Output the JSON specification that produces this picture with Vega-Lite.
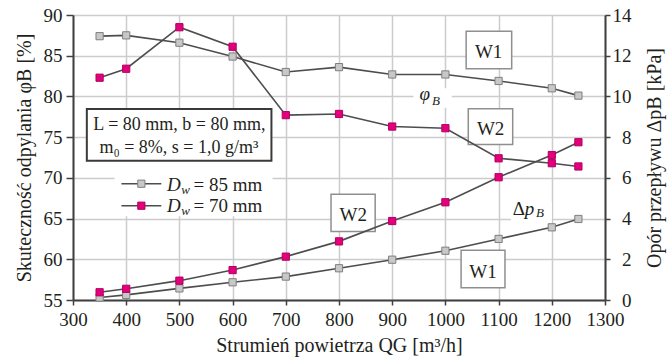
{
  "$schema": "https://vega.github.io/schema/vega-lite/v6.json",
  "width": 532,
  "height": 285,
  "autosize": {"type": "none"},
  "padding": {"left": 73, "top": 15, "right": 63, "bottom": 60},
  "background": "white",
  "config": {
    "font": "'Liberation Serif', 'DejaVu Serif', serif",
    "view": {"stroke": null},
    "axis": {
      "labelFont": "'Liberation Serif', 'DejaVu Serif', serif",
      "titleFont": "'Liberation Serif', 'DejaVu Serif', serif",
      "labelFontSize": 19,
      "titleFontSize": 20,
      "labelColor": "#231f20",
      "titleColor": "#231f20",
      "titleFontWeight": "normal",
      "domainColor": "#404040",
      "domainWidth": 2,
      "tickColor": "#404040",
      "tickWidth": 1.5,
      "gridColor": "#cccccc",
      "gridWidth": 1.5,
      "labelFlush": false,
      "labelOverlap": false
    },
    "axisX": {
      "values": [300, 500, 700, 900, 1100, 1300],
      "format": "d",
      "tickSize": 5,
      "labelPadding": 5,
      "grid": true,
      "titlePadding": 6
    }
  },
  "datasets": {
    "eff": [
      {"Q": 350, "phi": 87.4, "Dw": "85"}, {"Q": 400, "phi": 87.5, "Dw": "85"}, {"Q": 500, "phi": 86.6, "Dw": "85"},
      {"Q": 600, "phi": 84.9, "Dw": "85"}, {"Q": 700, "phi": 83.0, "Dw": "85"}, {"Q": 800, "phi": 83.6, "Dw": "85"},
      {"Q": 900, "phi": 82.7, "Dw": "85"}, {"Q": 1000, "phi": 82.7, "Dw": "85"}, {"Q": 1100, "phi": 81.9, "Dw": "85"},
      {"Q": 1200, "phi": 81.0, "Dw": "85"}, {"Q": 1250, "phi": 80.1, "Dw": "85"},
      {"Q": 350, "phi": 82.3, "Dw": "70"}, {"Q": 400, "phi": 83.4, "Dw": "70"}, {"Q": 500, "phi": 88.5, "Dw": "70"},
      {"Q": 600, "phi": 86.1, "Dw": "70"}, {"Q": 700, "phi": 77.7, "Dw": "70"}, {"Q": 800, "phi": 77.85, "Dw": "70"},
      {"Q": 900, "phi": 76.3, "Dw": "70"}, {"Q": 1000, "phi": 76.1, "Dw": "70"}, {"Q": 1100, "phi": 72.4, "Dw": "70"},
      {"Q": 1200, "phi": 71.8, "Dw": "70"}, {"Q": 1250, "phi": 71.4, "Dw": "70"}
    ],
    "dp": [
      {"Q": 350, "dp": 0.12, "Dw": "85"}, {"Q": 400, "dp": 0.25, "Dw": "85"}, {"Q": 500, "dp": 0.57, "Dw": "85"},
      {"Q": 600, "dp": 0.87, "Dw": "85"}, {"Q": 700, "dp": 1.15, "Dw": "85"}, {"Q": 800, "dp": 1.56, "Dw": "85"},
      {"Q": 900, "dp": 1.98, "Dw": "85"}, {"Q": 1000, "dp": 2.42, "Dw": "85"}, {"Q": 1100, "dp": 3.0, "Dw": "85"},
      {"Q": 1200, "dp": 3.57, "Dw": "85"}, {"Q": 1250, "dp": 3.98, "Dw": "85"},
      {"Q": 350, "dp": 0.38, "Dw": "70"}, {"Q": 400, "dp": 0.55, "Dw": "70"}, {"Q": 500, "dp": 0.95, "Dw": "70"},
      {"Q": 600, "dp": 1.47, "Dw": "70"}, {"Q": 700, "dp": 2.13, "Dw": "70"}, {"Q": 800, "dp": 2.88, "Dw": "70"},
      {"Q": 900, "dp": 3.88, "Dw": "70"}, {"Q": 1000, "dp": 4.8, "Dw": "70"}, {"Q": 1100, "dp": 6.03, "Dw": "70"},
      {"Q": 1200, "dp": 7.12, "Dw": "70"}, {"Q": 1250, "dp": 7.75, "Dw": "70"}
    ],
    "masks": [
      {"Q": 378, "Q2": 675, "lo": 65.3, "hi": 72.1},
      {"Q": 940, "Q2": 1012, "lo": 78.6, "hi": 81.0},
      {"Q": 1123, "Q2": 1200, "lo": 64.2, "hi": 67.0}
    ],
    "paramBox": [
      {"Q": 326, "Q2": 673, "lo": 72.1, "hi": 78.45}
    ],
    "labelBoxes": [
      {"Q": 1039, "Q2": 1124.6, "lo": 83.4, "hi": 88.0},
      {"Q": 1043, "Q2": 1126.5, "lo": 74.1, "hi": 78.5},
      {"Q": 785, "Q2": 868, "lo": 63.4, "hi": 68.0},
      {"Q": 1029.5, "Q2": 1112, "lo": 56.5, "hi": 61.1}
    ],
    "legend": [
      {"Q": 391, "Q2": 466, "Qm": 428.5, "phi": 69.28, "Dw": "85"},
      {"Q": 391, "Q2": 466, "Qm": 428.5, "phi": 66.58, "Dw": "70"}
    ],
    "ctext": [
      {"Q": 1081.2, "phi": 84.72, "t": "W1"},
      {"Q": 1085, "phi": 75.3, "t": "W2"},
      {"Q": 826.7, "phi": 64.65, "t": "W2"},
      {"Q": 1070.8, "phi": 57.7, "t": "W1"}
    ],
    "ptext": [
      {"Q": 500, "phi": 75.83, "t": "L = 80 mm, b = 80 mm,"},
      {"Q": 499, "phi": 73.05, "t": "m₀ = 8%, s = 1,0 g/m³"}
    ],
    "ltext": [
      {"Q": 526.7, "phi": 68.34, "t": "= 85 mm"},
      {"Q": 526.7, "phi": 65.76, "t": "= 70 mm"},
      {"Q": 1126.4, "phi": 65.48, "t": "Δ"}
    ],
    "itext": [
      {"Q": 476.5, "phi": 68.34, "t": "D"},
      {"Q": 476.5, "phi": 65.76, "t": "D"},
      {"Q": 951.2, "phi": 79.51, "t": "φ"},
      {"Q": 1149, "phi": 65.48, "t": "p"}
    ],
    "stext": [
      {"Q": 503.6, "phi": 68.02, "t": "w"},
      {"Q": 503.6, "phi": 65.48, "t": "w"},
      {"Q": 975, "phi": 78.98, "t": "B"},
      {"Q": 1170.4, "phi": 65.2, "t": "B"}
    ]
  },
  "resolve": {"scale": {"y": "independent"}},
  "layer": [
    {
      "layer": [
        {
          "data": {"name": "masks"},
          "mark": {"type": "rect", "fill": "white", "strokeWidth": 0},
          "encoding": {
            "x": {"field": "Q", "type": "quantitative", "scale": {"domain": [300, 1300], "nice": false}, "title": "Strumień powietrza QG [m³/h]"},
            "x2": {"field": "Q2"},
            "y": {"field": "lo", "type": "quantitative", "scale": {"domain": [55, 90], "nice": false, "zero": false},
                  "title": "Skuteczność odpylania φB [%]",
                  "axis": {"orient": "left", "values": [55, 60, 65, 70, 75, 80, 85, 90], "grid": true, "tickSize": 7, "labelPadding": 4, "titlePadding": 9}},
            "y2": {"field": "hi"}
          }
        },
        {
          "data": {"name": "paramBox"},
          "mark": {"type": "rect", "fill": "white", "stroke": "#3a3a3a", "strokeWidth": 2},
          "encoding": {
            "x": {"field": "Q", "type": "quantitative", "scale": {"domain": [300, 1300], "nice": false}, "title": "Strumień powietrza QG [m³/h]"},
            "x2": {"field": "Q2"},
            "y": {"field": "lo", "type": "quantitative", "title": "Skuteczność odpylania φB [%]"},
            "y2": {"field": "hi"}
          }
        },
        {
          "data": {"name": "labelBoxes"},
          "mark": {"type": "rect", "fill": "white", "stroke": "#8f8f8f", "strokeWidth": 1.5},
          "encoding": {
            "x": {"field": "Q", "type": "quantitative", "scale": {"domain": [300, 1300], "nice": false}, "title": "Strumień powietrza QG [m³/h]"},
            "x2": {"field": "Q2"},
            "y": {"field": "lo", "type": "quantitative", "title": "Skuteczność odpylania φB [%]"},
            "y2": {"field": "hi"}
          }
        }
      ]
    },
    {
      "data": {"name": "dp"},
      "encoding": {
        "x": {"field": "Q", "type": "quantitative", "scale": {"domain": [300, 1300], "nice": false}, "title": "Strumień powietrza QG [m³/h]"},
        "y": {"field": "dp", "type": "quantitative", "scale": {"domain": [0, 14], "nice": false},
              "title": "Opór przepływu ΔpB [kPa]",
              "axis": {"orient": "right", "values": [0, 2, 4, 6, 8, 10, 12, 14], "grid": false, "tickSize": 5, "labelAlign": "right", "labelPadding": 21, "titleAngle": 270, "titleBaseline": "top", "titlePadding": 13}}
      },
      "layer": [
        {
          "mark": {"type": "line", "color": "#4d4d4d", "strokeWidth": 1.6},
          "encoding": {"detail": {"field": "Dw"}}
        },
        {
          "mark": {"type": "point", "shape": "square", "filled": true, "size": 52, "strokeWidth": 1, "opacity": 1},
          "encoding": {
            "fill": {"field": "Dw", "type": "nominal", "scale": {"domain": ["85", "70"], "range": ["#c8c8c8", "#e4007c"]}, "legend": null},
            "stroke": {"field": "Dw", "type": "nominal", "scale": {"domain": ["85", "70"], "range": ["#7f7f7f", "#b0005f"]}, "legend": null}
          }
        }
      ]
    },
    {
      "layer": [
        {
          "data": {"name": "eff"},
          "mark": {"type": "line", "color": "#4d4d4d", "strokeWidth": 1.6},
          "encoding": {
            "x": {"field": "Q", "type": "quantitative", "scale": {"domain": [300, 1300], "nice": false}, "title": "Strumień powietrza QG [m³/h]"},
            "y": {"field": "phi", "type": "quantitative", "scale": {"domain": [55, 90], "nice": false, "zero": false}, "axis": null},
            "detail": {"field": "Dw"}
          }
        },
        {
          "data": {"name": "eff"},
          "mark": {"type": "point", "shape": "square", "filled": true, "size": 52, "strokeWidth": 1, "opacity": 1},
          "encoding": {
            "x": {"field": "Q", "type": "quantitative", "title": "Strumień powietrza QG [m³/h]"},
            "y": {"field": "phi", "type": "quantitative", "axis": null},
            "fill": {"field": "Dw", "type": "nominal", "legend": null},
            "stroke": {"field": "Dw", "type": "nominal", "legend": null}
          }
        },
        {
          "data": {"name": "legend"},
          "mark": {"type": "rule", "color": "#4d4d4d", "strokeWidth": 1.6},
          "encoding": {
            "x": {"field": "Q", "type": "quantitative", "title": "Strumień powietrza QG [m³/h]"},
            "x2": {"field": "Q2"},
            "y": {"field": "phi", "type": "quantitative", "axis": null}
          }
        },
        {
          "data": {"name": "legend"},
          "mark": {"type": "point", "shape": "square", "filled": true, "size": 52, "strokeWidth": 1, "opacity": 1},
          "encoding": {
            "x": {"field": "Qm", "type": "quantitative", "title": "Strumień powietrza QG [m³/h]"},
            "y": {"field": "phi", "type": "quantitative", "axis": null},
            "fill": {"field": "Dw", "type": "nominal", "legend": null},
            "stroke": {"field": "Dw", "type": "nominal", "legend": null}
          }
        },
        {
          "data": {"name": "ctext"},
          "mark": {"type": "text", "align": "center", "baseline": "alphabetic", "font": "'Liberation Serif', 'DejaVu Serif', serif", "fontSize": 19, "color": "#231f20"},
          "encoding": {
            "x": {"field": "Q", "type": "quantitative", "title": "Strumień powietrza QG [m³/h]"},
            "y": {"field": "phi", "type": "quantitative", "axis": null},
            "text": {"field": "t"}
          }
        },
        {
          "data": {"name": "ptext"},
          "mark": {"type": "text", "align": "center", "baseline": "alphabetic", "font": "'Liberation Serif', 'DejaVu Serif', serif", "fontSize": 18, "color": "#231f20"},
          "encoding": {
            "x": {"field": "Q", "type": "quantitative", "title": "Strumień powietrza QG [m³/h]"},
            "y": {"field": "phi", "type": "quantitative", "axis": null},
            "text": {"field": "t"}
          }
        },
        {
          "data": {"name": "ltext"},
          "mark": {"type": "text", "align": "left", "baseline": "alphabetic", "font": "'Liberation Serif', 'DejaVu Serif', serif", "fontSize": 19, "color": "#231f20"},
          "encoding": {
            "x": {"field": "Q", "type": "quantitative", "title": "Strumień powietrza QG [m³/h]"},
            "y": {"field": "phi", "type": "quantitative", "axis": null},
            "text": {"field": "t"}
          }
        },
        {
          "data": {"name": "itext"},
          "mark": {"type": "text", "align": "left", "baseline": "alphabetic", "font": "'Liberation Serif', 'DejaVu Serif', serif", "fontStyle": "italic", "fontSize": 19, "color": "#231f20"},
          "encoding": {
            "x": {"field": "Q", "type": "quantitative", "title": "Strumień powietrza QG [m³/h]"},
            "y": {"field": "phi", "type": "quantitative", "axis": null},
            "text": {"field": "t"}
          }
        },
        {
          "data": {"name": "stext"},
          "mark": {"type": "text", "align": "left", "baseline": "alphabetic", "font": "'Liberation Serif', 'DejaVu Serif', serif", "fontStyle": "italic", "fontSize": 13, "color": "#231f20"},
          "encoding": {
            "x": {"field": "Q", "type": "quantitative", "title": "Strumień powietrza QG [m³/h]"},
            "y": {"field": "phi", "type": "quantitative", "axis": null},
            "text": {"field": "t"}
          }
        }
      ]
    }
  ]
}
